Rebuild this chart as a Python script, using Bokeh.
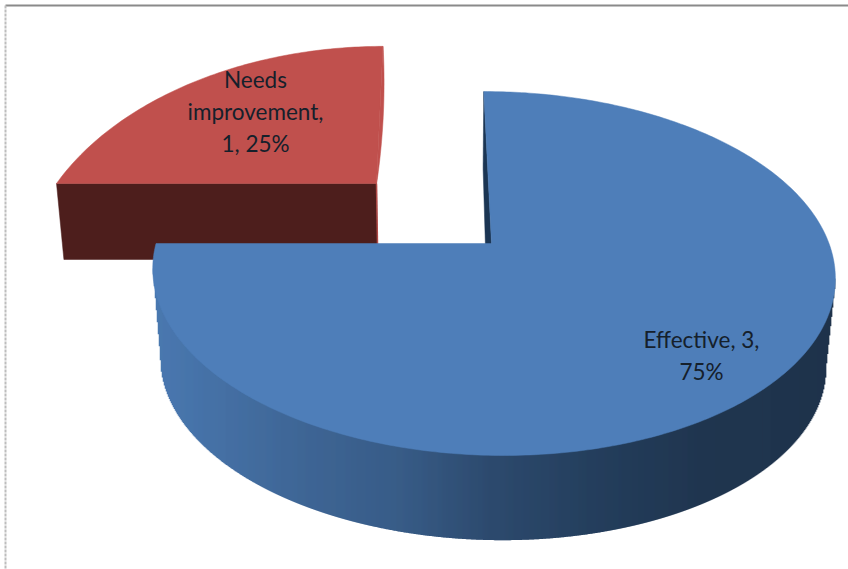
import numpy as np
from bokeh.plotting import figure
from bokeh.models import Range1d
from bokeh.core.properties import value
from bokeh.embed import file_html
from bokeh.resources import INLINE

categories = ["Needs improvement", "Effective"]
counts = [1, 3]
percents = [25, 75]

shares = np.array(counts) / sum(counts)


def hex_rgb(h):
    return np.array([int(h[i:i + 2], 16) for i in (1, 3, 5)], dtype=float)


def side_color(x):
    # Horizontal shading of the pie's outer wall
    stops_x = [150, 300, 400, 490, 600, 700, 840]
    stops_c = ["#4a79b1", "#3f6696", "#385c87", "#2d4a6e", "#243e5c", "#203650", "#1f334b"]
    rgb = [np.interp(x, stops_x, [hex_rgb(c)[i] for c in stops_c]) for i in range(3)]
    return "#%02x%02x%02x" % tuple(int(round(v)) for v in rgb)


def project(t, radius, geom, depth=0.0):
    """Perspective view of a disc point; t is clockwise from 12 o'clock, in turns."""
    u = radius * np.sin(2 * np.pi * np.asarray(t))
    v = radius * np.cos(2 * np.pi * np.asarray(t))
    w = 1 + geom["k"] * v + geom["m"] * u
    scale = 1 - geom["taper"] * depth
    x = geom["ax"] + geom["dx"] * depth + scale * (geom["c"] * u + geom["d"] * v) / w
    y = geom["ay"] + geom["depth"] * depth - scale * geom["a"] * v / w
    return x, y


blue = dict(ax=491, ay=243, k=0.165, m=-0.003, c=336.5, d=-9, a=177, depth=90, dx=-1, taper=0.025)
red = dict(ax=376, ay=183, k=0.4, m=0.0, c=320, d=9, a=192, depth=76, dx=1, taper=0.02)

p = figure(width=848, height=569, output_backend="svg", toolbar_location=None,
           x_range=Range1d(0, 848), y_range=Range1d(569, 0),
           background_fill_color="white", border_fill_color="white",
           min_border=0, outline_line_color=None)
p.axis.visible = False
p.grid.visible = False

# Chart frame
p.line([5, 848], [5, 5], line_color="#8a8a8a", line_width=2)
p.line([5, 5], [5, 569], line_color="#bdbdbd", line_width=2, line_dash="3 1")

# Exploded slice: first the dark cut face, then its rim sliver, then the top
red_start, red_end = 1 - shares[0], 1.0
cut_x = [project(red_start, 1, red)[0], red["ax"], red["ax"] + red["dx"], project(red_start, 1, red, 1)[0]]
cut_y = [project(red_start, 1, red)[1], red["ay"], red["ay"] + red["depth"], project(red_start, 1, red, 1)[1]]
p.patch(cut_x, cut_y, fill_color="#4d1e1c", fill_alpha=1, line_color="#4d1e1c", line_width=0.5)
p.line([red["ax"], red["ax"] + red["dx"]], [red["ay"], red["ay"] + red["depth"] - 15],
       line_color="#b04a47", line_width=1.5)
ts = np.linspace(red_start, red_end, 90)
rx, ry = project(ts, 1, red)
p.patch([red["ax"], *rx], [red["ay"], *ry], fill_color="#c0504d", fill_alpha=1, line_color="#c0504d", line_width=0.5)
s = np.linspace(0, 1, 24)
bulge_x = rx[-1] + (red["ax"] - rx[-1]) * s + 3.6 * np.sin(np.pi * s) ** 0.8
bulge_y = ry[-1] + (red["ay"] - ry[-1]) * s
p.patch(bulge_x, bulge_y, fill_color="#c0504d", fill_alpha=1, line_color="#c0504d", line_width=0.5)

# Main slice: inner wall, outer wall columns, then top face
blue_start, blue_end = 0.0, shares[1]
wx0, wy0 = project(0.0, 1, blue)
wx1, wy1 = project(0.0, 1, blue, 0.82)
p.patch([blue["ax"], wx0, wx1, blue["ax"] - 6], [blue["ay"], wy0, wy1, blue["ay"] + 5],
        fill_color="#1b3553", fill_alpha=1, line_color="#1b3553", line_width=0.5)

# The wall is shaded left to right: overlapping columns, each painted over the last
rim = np.linspace(0.0, blue_end, 1500)
tx, ty = project(rim, 1, blue)
bx, by = project(rim, 1, blue, 1)
ti_r, ti_l = np.argmax(tx), np.argmin(tx)
bi_r, bi_l = np.argmax(bx), np.argmin(bx)
lower_x = np.concatenate([[tx[ti_l]], bx[bi_l:bi_r - 1:-1], [tx[ti_r]]])
lower_y = np.concatenate([[ty[ti_l]], by[bi_l:bi_r - 1:-1], [ty[ti_r]]])
col_left = np.arange(tx[ti_l], tx[ti_r] - 1)
col_mid = col_left + 0.5
col_bottom = np.interp(col_mid, lower_x, lower_y)
col_top = np.interp(col_mid, [tx[ti_l], tx[ti_r]], [ty[ti_l], ty[ti_r]])
p.quad(left=col_left, right=col_left + 1.6, top=col_top, bottom=col_bottom,
       fill_color=[side_color(x) for x in col_mid], fill_alpha=1, line_color=None)

ts = np.linspace(blue_start, blue_end, 360)
fx, fy = project(ts, 1, blue)
p.patch([blue["ax"], *fx], [blue["ay"], *fy], fill_color="#4e7eb9", fill_alpha=1, line_color="#4e7eb9", line_width=0.5)

# Data labels
lab_x = [255, 255, 255, 701, 701]
lab_y = [79, 111, 143, 339, 371]
lab_t = ["Needs", categories[0].split()[1] + ",", f"{counts[0]}, {percents[0]}%",
         f"{categories[1]}, {counts[1]},", f"{percents[1]}%"]
p.text(lab_x, lab_y, text=lab_t, text_font=value("Lato"), text_font_size="22.5px",
       text_color="#15202b", text_align="center", text_baseline="middle")

open("out.html", "w").write(file_html(p, INLINE))
